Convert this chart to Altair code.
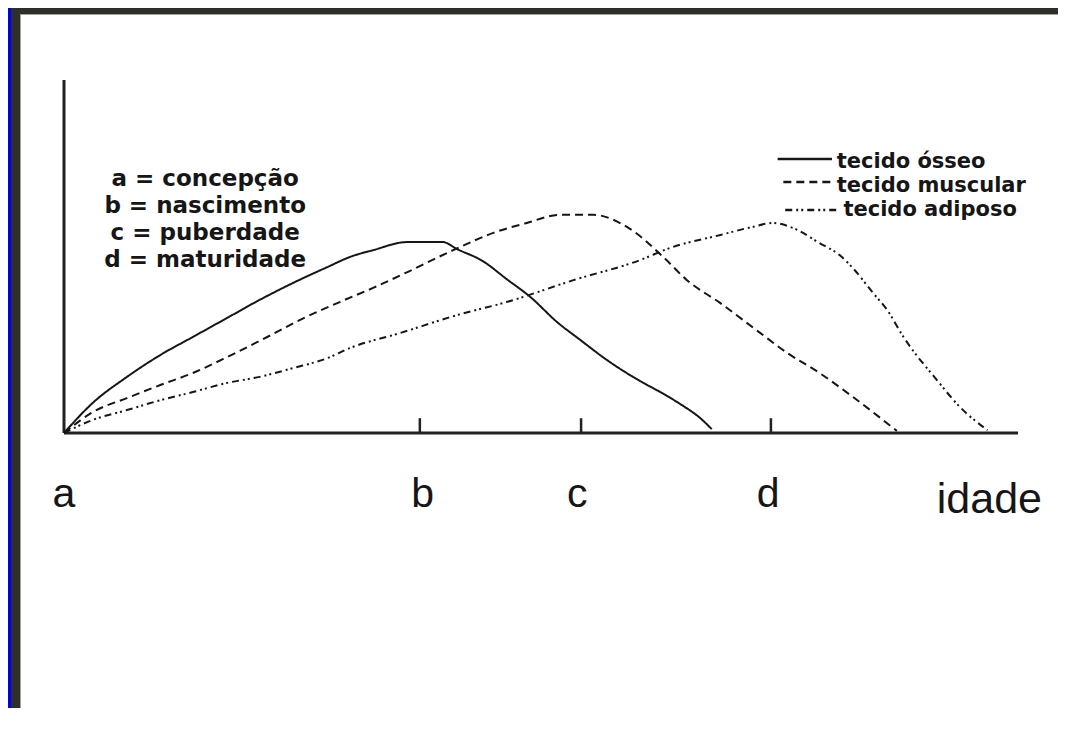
import altair as alt
import pandas as pd

# ---------------- data ----------------
series_names = ["tecido ósseo", "tecido muscular", "tecido adiposo"]

osseo_x = [0, 3.0, 6.6, 10.1, 13.5, 17.1, 20.5, 24.0, 27.6, 30.0, 32.4, 36.0,
           39.7, 41.2, 43.9, 46.4, 48.9, 51.7, 54.1, 56.9, 60.4, 62.5, 64.6,
           66.7, 67.9]
osseo_y = [0, 8.5, 15.9, 22.1, 27.2, 32.6, 37.7, 42.5, 47.0, 49.9, 51.8, 54.1,
           54.1, 52.1, 48.7, 43.6, 38.5, 31.4, 26.4, 20.7, 14.7, 11.6, 8.2,
           4.2, 1.1]

muscular_x = [0, 3.0, 6.6, 10.1, 13.5, 17.1, 21.3, 24.7, 28.9, 32.4, 36.0, 40.8,
              45.0, 48.5, 52.0, 55.5, 59.0, 62.8, 65.3, 68.8, 73.0, 75.8, 79.2,
              82.7, 87.3]
muscular_y = [0, 5.9, 9.9, 13.6, 17.0, 21.5, 27.2, 32.0, 37.1, 41.1, 45.6, 51.8,
              56.7, 59.5, 61.8, 61.8, 58.4, 49.9, 43.3, 36.8, 28.3, 22.7, 17.0,
              10.2, 0.6]

adiposo_x = [0, 3.0, 6.6, 10.1, 13.5, 17.1, 20.5, 24.0, 27.6, 30.0, 35.2, 41.2,
             46.4, 53.4, 60.4, 63.5, 68.8, 72.2, 74.3, 76.4, 79.2, 81.3, 82.7,
             84.8, 86.3, 88.0, 91.5, 93.9, 96.8]
adiposo_y = [0, 3.7, 6.5, 9.3, 11.6, 14.2, 15.9, 18.4, 21.2, 24.1, 28.3, 33.4,
             37.1, 43.3, 49.0, 52.4, 56.1, 58.4, 59.5, 58.1, 53.8, 50.4, 46.7,
             39.7, 34.8, 27.2, 15.0, 7.4, 0.8]

# axis extents (data units)
axis_x_end = 100
axis_y_end = 100

# stage ticks and labels
tick_names = ["b", "c", "d"]
tick_x = [37.3, 54.2, 74.1]
tick_len = 4.2

label_text = ["a", "b", "c", "d"]
label_x = [0, 37.6, 53.8, 73.8]
label_y = -21.0
idade_text = "idade"
idade_x = 97.0
idade_y = -22.8

# annotation block
note_text = ["a = concepção", "b = nascimento", "c = puberdade", "d = maturidade"]
note_x = 14.8
note_y = [70.0, 62.3, 54.7, 47.0]

# legend block
leg_x0 = [74.8, 75.4, 75.6]
leg_x1 = [80.5, 80.5, 81.1]
leg_y = [77.6, 71.1, 63.2]
leg_tx = [81.0, 81.0, 81.7]
leg_ty = [75.1, 68.3, 61.5]

# ---------------- tables ----------------
rows = []
for name, xs, ys in zip(series_names,
                        [osseo_x, muscular_x, adiposo_x],
                        [osseo_y, muscular_y, adiposo_y]):
    for i, (xv, yv) in enumerate(zip(xs, ys)):
        rows.append({"serie": name, "idade": xv, "valor": yv, "ordem": i})
curves = pd.DataFrame(rows)

axes_df = pd.DataFrame({"x0": [0, 0], "y0": [0, 0],
                        "x1": [axis_x_end, 0], "y1": [0, axis_y_end]})
ticks_df = pd.DataFrame({"nome": tick_names, "x": tick_x,
                         "y0": [0] * 3, "y1": [tick_len] * 3})
labels_df = pd.DataFrame({"t": label_text, "x": label_x, "y": [label_y] * 4})
idade_df = pd.DataFrame({"t": [idade_text], "x": [idade_x], "y": [idade_y]})
notes_df = pd.DataFrame({"t": note_text, "x": [note_x] * 4, "y": note_y})
legend_df = pd.DataFrame({"serie": series_names, "x0": leg_x0, "x1": leg_x1,
                          "y": leg_y, "tx": leg_tx, "ty": leg_ty})

# ---------------- scales ----------------
W, H = 1050, 700
XS = alt.Scale(domain=[-5.870, 104.193], nice=False, zero=False)
YS = alt.Scale(domain=[-77.90, 120.40], nice=False, zero=False)
DASH = alt.Scale(domain=series_names, range=[[1, 0], [8, 5], [7, 4, 2, 3, 2, 4]])

INK = "#161616"

def X(f):
    return alt.X(f, type="quantitative", scale=XS, axis=None)

def Y(f):
    return alt.Y(f, type="quantitative", scale=YS, axis=None)

# ---------------- frame (decoration) ----------------
one = pd.DataFrame({"k": [0]})
frame = alt.layer(
    alt.Chart(one).mark_rect(color="#0000f0").encode(
        x=alt.value(0), x2=alt.value(3), y=alt.value(0), y2=alt.value(H)),
    alt.Chart(one).mark_rect(color="#2e2e2a").encode(
        x=alt.value(3), x2=alt.value(12), y=alt.value(0), y2=alt.value(H)),
    alt.Chart(one).mark_rect(color="#2e2e2a").encode(
        x=alt.value(3), x2=alt.value(W), y=alt.value(0), y2=alt.value(6)),
    alt.Chart(one).mark_rect(color="#a0a0a0").encode(
        x=alt.value(12), x2=alt.value(13), y=alt.value(6), y2=alt.value(H)),
    alt.Chart(one).mark_rect(color="#a0a0a0").encode(
        x=alt.value(12), x2=alt.value(W), y=alt.value(6), y2=alt.value(7)),
)

axes = alt.Chart(axes_df).mark_rule(color="#222222", strokeWidth=3).encode(
    x=X("x0"), x2="x1", y=Y("y0"), y2="y1")

ticks = alt.Chart(ticks_df).mark_rule(color="#222222", strokeWidth=2.5).encode(
    x=X("x"), y=Y("y0"), y2="y1")

lines = alt.Chart(curves).mark_line(color=INK, strokeWidth=2,
                                    interpolate="monotone").encode(
    x=X("idade"), y=Y("valor"),
    strokeDash=alt.StrokeDash("serie:N", scale=DASH, legend=None),
    order="ordem:Q")

labels = alt.Chart(labels_df).mark_text(
    font="Liberation Sans", fontSize=41, color=INK,
    align="center", baseline="alphabetic").encode(
    x=X("x"), y=Y("y"), text="t:N")

idade = alt.Chart(idade_df).mark_text(
    font="Liberation Sans", fontSize=43, color=INK,
    align="center", baseline="alphabetic").encode(
    x=X("x"), y=Y("y"), text="t:N")

notes = alt.Chart(notes_df).mark_text(
    font="DejaVu Sans", fontWeight="bold", fontSize=23, color=INK,
    align="center", baseline="alphabetic").encode(
    x=X("x"), y=Y("y"), text="t:N")

leg_lines = alt.Chart(legend_df).mark_rule(color=INK, strokeWidth=2.5).encode(
    x=X("x0"), x2="x1", y=Y("y"),
    strokeDash=alt.StrokeDash("serie:N", scale=DASH, legend=None))

leg_text = alt.Chart(legend_df).mark_text(
    font="DejaVu Sans", fontWeight="bold", fontSize=21, color=INK,
    align="left", baseline="alphabetic").encode(
    x=X("tx"), y=Y("ty"), text="serie:N")

chart = alt.layer(frame, axes, ticks, lines, labels, idade, notes,
                  leg_lines, leg_text).properties(
    width=W, height=H, padding=0, autosize=alt.AutoSizeParams(type="none"),
    background="white"
).configure_view(stroke=None)

chart.save("out.html", embed_options={"renderer": "svg", "actions": False})
